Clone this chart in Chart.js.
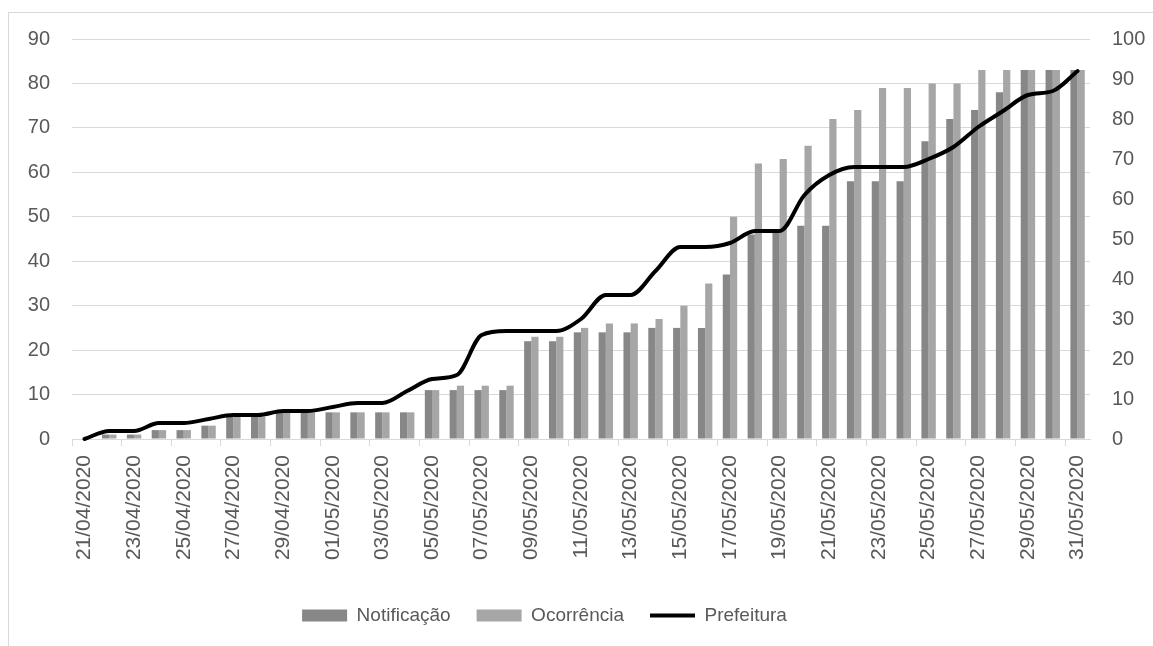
<!DOCTYPE html>
<html>
<head>
<meta charset="utf-8">
<script src="https://cdn.jsdelivr.net/npm/chart.js@4/dist/chart.umd.min.js"></script>
<style>
  html, body { margin: 0; padding: 0; background: #ffffff; }
  #wrap { position: relative; width: 1153px; height: 646px; overflow: hidden; }
  #frame { position: absolute; left: 8px; top: 12px; width: 1200px; height: 700px;
           border-left: 1px solid #d9d9d9; border-top: 1px solid #d9d9d9; }
  #c { position: absolute; left: 0; top: 0; }
</style>
</head>
<body>
<div id="wrap">
  <div id="frame"></div>
  <canvas id="c" width="1153" height="646"></canvas>
</div>
<script>
// Daily dates, 21/04/2020 to 31/05/2020
const dates = [
  '21/04/2020','22/04/2020','23/04/2020','24/04/2020','25/04/2020','26/04/2020','27/04/2020',
  '28/04/2020','29/04/2020','30/04/2020','01/05/2020','02/05/2020','03/05/2020','04/05/2020',
  '05/05/2020','06/05/2020','07/05/2020','08/05/2020','09/05/2020','10/05/2020','11/05/2020',
  '12/05/2020','13/05/2020','14/05/2020','15/05/2020','16/05/2020','17/05/2020','18/05/2020',
  '19/05/2020','20/05/2020','21/05/2020','22/05/2020','23/05/2020','24/05/2020','25/05/2020',
  '26/05/2020','27/05/2020','28/05/2020','29/05/2020','30/05/2020','31/05/2020'
];

// Cumulative counts per source (left axis for bars, right axis for line)
const notificacao = [0,1,1,2,2,3,5,5,6,6,6,6,6,6,11,11,11,11,22,22,24,24,24,25,25,25,37,46,47,48,48,58,58,58,67,72,74,78,83,83,83];
const ocorrencia  = [0,1,1,2,2,3,5,5,6,6,6,6,6,6,11,12,12,12,23,23,25,26,26,27,30,35,50,62,63,66,72,74,79,79,80,80,83,83,83,83,83];
const prefeitura  = [0,2,2,4,4,5,6,6,7,7,8,9,9,12,15,16,26,27,27,27,30,36,36,42,48,48,49,52,52,61,66,68,68,68,70,73,78,82,86,87,92];

const leftTicks  = { min: 0, max: 90,  step: 10 };
const rightTicks = { min: 0, max: 100, step: 10 };

const textColor = '#595959';
const gridColor = '#d9d9d9';
const tickFont = { family: 'Liberation Sans', size: 20 };
const dateFont = { family: 'Liberation Sans', size: 21 };

// Moves the bottom legend horizontally after layout
const legendShift = {
  id: 'legendShift',
  afterLayout(chart) {
    const lg = chart.legend;
    if (lg) { lg.left -= 32; lg.right -= 32; }
  }
};

new Chart(document.getElementById('c'), {
  type: 'bar',
  data: {
    labels: dates,
    datasets: [
      { label: 'Notificação', data: notificacao, backgroundColor: '#878787', borderWidth: 0,
        yAxisID: 'y', order: 1, pointStyle: 'rect', categoryPercentage: 0.58, barPercentage: 1.0 },
      { label: 'Ocorrência', data: ocorrencia, backgroundColor: '#a6a6a6', borderWidth: 0,
        yAxisID: 'y', order: 1, pointStyle: 'rect', categoryPercentage: 0.58, barPercentage: 1.0 },
      { type: 'line', label: 'Prefeitura', data: prefeitura, borderColor: '#000000',
        backgroundColor: '#000000', borderWidth: 4, pointRadius: 0, pointHoverRadius: 0,
        cubicInterpolationMode: 'monotone', borderCapStyle: 'round', borderJoinStyle: 'round',
        clip: false, yAxisID: 'y1', order: 0, pointStyle: 'line' }
    ]
  },
  options: {
    responsive: false,
    devicePixelRatio: 1,
    animation: false,
    layout: { padding: { top: 39, left: 0, right: 0, bottom: 11 } },
    plugins: {
      tooltip: { enabled: false },
      legend: {
        position: 'bottom',
        labels: {
          usePointStyle: true,
          pointStyleWidth: 45,
          boxHeight: 12,
          padding: 26,
          color: textColor,
          font: { family: 'Liberation Sans', size: 19 },
          sort: (a, b) => a.datasetIndex - b.datasetIndex
        }
      }
    },
    scales: {
      x: {
        offset: true,
        grid: {
          offset: true,
          drawOnChartArea: false,
          drawTicks: true,
          tickLength: 7,
          color: (ctx) => (ctx.index % 2 === 0 ? gridColor : 'rgba(0,0,0,0)')
        },
        border: { display: true, color: gridColor, width: 1 },
        ticks: {
          autoSkip: false,
          maxRotation: 90,
          minRotation: 90,
          padding: 9,
          color: textColor,
          font: dateFont,
          callback: function (v, i) { return i % 2 === 0 ? this.getLabelForValue(v) : ''; }
        },
        afterFit: (s) => { s.height = 141; }
      },
      y: {
        position: 'left',
        min: leftTicks.min, max: leftTicks.max,
        grid: { color: gridColor, lineWidth: 1, drawTicks: false },
        border: { display: false },
        ticks: { stepSize: leftTicks.step, padding: 22, color: textColor, font: tickFont },
        afterFit: (s) => { s.width = 72; }
      },
      y1: {
        position: 'right',
        min: rightTicks.min, max: rightTicks.max,
        grid: { drawOnChartArea: false, drawTicks: false },
        border: { display: false },
        ticks: { stepSize: rightTicks.step, padding: 22, color: textColor, font: tickFont },
        afterFit: (s) => { s.width = 63; }
      }
    }
  },
  plugins: [legendShift]
});
</script>
</body>
</html>
